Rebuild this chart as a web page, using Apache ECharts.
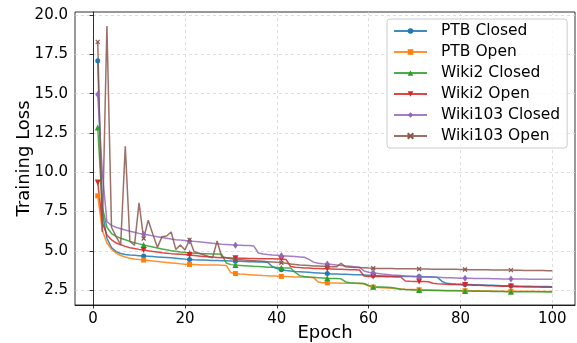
<!DOCTYPE html>
<html><head><meta charset="utf-8">
<script src="https://cdn.jsdelivr.net/npm/echarts@6/dist/echarts.min.js"></script>
<style>html,body{margin:0;padding:0;background:#fff}#c{width:577px;height:343px}</style>
</head><body><div id="c"></div>
<script>
const epochs = [1,2,3,4,5,6,7,8,9,10,11,12,13,14,15,16,17,18,19,20,21,22,23,24,25,26,27,28,29,30,31,32,33,34,35,36,37,38,39,40,41,42,43,44,45,46,47,48,49,50,51,52,53,54,55,56,57,58,59,60,61,62,63,64,65,66,67,68,69,70,71,72,73,74,75,76,77,78,79,80,81,82,83,84,85,86,87,88,89,90,91,92,93,94,95,96,97,98,99,100];

const ptbClosed = [17.1,7.5,5.8,5.2,4.95,4.83,4.77,4.73,4.71,4.69,
4.67,4.65,4.63,4.61,4.59,4.57,4.55,4.53,4.5,4.47,
4.45,4.43,4.42,4.41,4.4,4.39,4.38,4.37,4.36,4.35,
4.34,4.33,4.32,4.31,4.3,4.29,4.28,4.27,4.0,3.87,
3.8,3.75,3.72,3.69,3.67,3.65,3.63,3.61,3.59,3.57,
3.55,3.53,3.52,3.51,3.5,3.49,3.48,3.47,3.46,3.45,
3.42,3.41,3.4,3.39,3.39,3.38,3.38,3.37,3.37,3.36,
3.36,3.35,3.35,3.34,3.3,3.05,2.93,2.9,2.88,2.87,
2.86,2.85,2.84,2.83,2.82,2.81,2.8,2.79,2.78,2.78,
2.77,2.76,2.75,2.75,2.74,2.73,2.73,2.72,2.72,2.71];

const ptbOpen = [8.5,6.3,5.5,5.1,4.85,4.7,4.6,4.53,4.48,4.44,
4.41,4.38,4.35,4.32,4.29,4.26,4.23,4.2,4.17,4.15,
4.13,4.12,4.11,4.1,4.1,4.09,4.09,4.08,4.07,3.6,
3.55,3.52,3.5,3.48,3.46,3.44,3.42,3.41,3.4,3.39,
3.37,3.36,3.35,3.34,3.33,3.32,3.31,3.29,3.02,2.97,
2.96,2.95,2.95,2.94,2.94,2.93,2.93,2.92,2.9,2.76,
2.69,2.67,2.65,2.63,2.61,2.59,2.57,2.55,2.54,2.53,
2.52,2.51,2.5,2.5,2.49,2.48,2.48,2.47,2.47,2.46,
2.46,2.45,2.45,2.45,2.44,2.44,2.44,2.43,2.43,2.43,
2.43,2.42,2.42,2.42,2.42,2.42,2.41,2.41,2.41,2.41];

const wiki2Closed = [12.85,7.8,6.5,6.1,5.92,5.8,5.7,5.6,5.52,5.44,
5.37,5.3,5.24,5.18,5.12,5.06,5.01,4.97,4.93,4.9,
4.86,4.84,4.83,4.82,4.81,4.8,4.79,4.78,4.22,4.12,
4.09,4.07,4.05,4.03,4.01,4.0,3.98,3.96,3.95,3.94,
3.92,3.91,3.9,3.62,3.42,3.36,3.33,3.31,3.29,3.27,
3.25,3.24,3.23,3.22,3.02,2.97,2.95,2.94,2.92,2.8,
2.71,2.7,2.69,2.68,2.67,2.62,2.55,2.53,2.52,2.51,
2.5,2.49,2.49,2.48,2.47,2.47,2.46,2.46,2.45,2.45,
2.44,2.44,2.43,2.43,2.42,2.42,2.41,2.41,2.41,2.4,
2.4,2.4,2.4,2.39,2.39,2.39,2.39,2.39,2.38,2.38];

const wiki2Open = [9.35,6.8,6.0,5.7,5.5,5.38,5.28,5.2,5.14,5.09,
5.05,5.0,4.96,4.92,4.88,4.85,4.82,4.8,4.78,4.76,
4.73,4.7,4.67,4.64,4.62,4.6,4.58,4.56,4.55,4.54,
4.53,4.52,4.52,4.51,4.51,4.5,4.5,4.49,4.49,4.48,
4.48,4.45,4.0,3.96,3.93,3.91,3.9,3.88,3.87,3.86,
3.85,3.84,3.83,3.82,3.81,3.8,3.79,3.78,3.4,3.37,
3.37,3.36,3.36,3.35,3.35,3.34,3.33,3.08,3.06,3.05,
3.05,3.04,3.03,2.93,2.9,2.89,2.87,2.86,2.85,2.84,
2.83,2.82,2.81,2.8,2.79,2.78,2.77,2.76,2.75,2.74,
2.72,2.71,2.71,2.7,2.7,2.69,2.69,2.68,2.68,2.68];

const wiki103Closed = [14.95,10.0,6.85,6.62,6.5,6.4,6.32,6.25,6.18,6.11,
6.05,6.0,5.95,5.9,5.85,5.8,5.75,5.71,5.68,5.66,
5.63,5.6,5.57,5.54,5.51,5.48,5.45,5.42,5.4,5.38,
5.36,5.35,5.34,5.33,5.3,4.86,4.8,4.76,4.73,4.71,
4.69,4.67,4.65,4.63,4.61,4.59,4.45,4.28,4.21,4.18,
4.16,4.13,4.1,4.07,4.04,4.01,3.98,3.95,3.72,3.63,
3.6,3.56,3.52,3.49,3.46,3.44,3.42,3.4,3.38,3.36,
3.35,3.34,3.33,3.32,3.31,3.3,3.29,3.28,3.27,3.26,
3.25,3.25,3.24,3.24,3.23,3.23,3.22,3.22,3.21,3.21,
3.2,3.2,3.2,3.2,3.19,3.19,3.19,3.19,3.19,3.19];

const wiki103Open = [18.3,6.2,19.3,6.5,5.9,5.4,11.65,5.6,5.35,8.05,
5.78,6.95,6.05,5.22,5.9,5.94,6.2,5.09,5.37,5.05,
5.7,4.94,4.85,4.75,4.65,4.55,5.62,4.62,4.56,4.5,
4.45,4.43,4.41,4.39,4.37,4.35,4.33,4.31,4.29,4.27,
4.24,4.2,4.16,4.13,4.1,4.08,4.06,4.04,4.03,4.02,
4.0,3.99,3.98,4.2,3.98,3.96,3.94,3.93,3.92,3.9,
3.89,3.88,3.88,3.87,3.87,3.86,3.86,3.85,3.85,3.85,
3.84,3.84,3.84,3.83,3.83,3.83,3.82,3.82,3.82,3.81,
3.81,3.8,3.8,3.8,3.79,3.79,3.78,3.78,3.78,3.77,
3.77,3.76,3.76,3.75,3.75,3.75,3.74,3.74,3.73,3.73];

const xTicks = [0,20,40,60,80,100];
const yTicks = [2.5,5,7.5,10,12.5,15,17.5,20];

const seriesNames = ['PTB Closed','PTB Open','Wiki2 Closed','Wiki2 Open','Wiki103 Closed','Wiki103 Open'];
const seriesValues = [ptbClosed, ptbOpen, wiki2Closed, wiki2Open, wiki103Closed, wiki103Open];
const colors = ['#1f77b4','#ff7f0e','#2ca02c','#d62728','#9467bd','#8c564b'];
const symbols = ['circle','rect','triangle','triangle','diamond','path://M0,0L10,10M10,0L0,10'];
const symbolSizes = [5,5,6,6,[5,7],4];
const symbolRotates = [0,0,0,180,0,0];

const FONT = 'DejaVu Sans';
const chart = echarts.init(document.getElementById('c'), null, {renderer:'canvas'});

const series = seriesNames.map((name, k) => ({
  name: name,
  type: 'line',
  showSymbol: true,
  showAllSymbol: true,
  symbol: symbols[k],
  symbolSize: symbolSizes[k],
  symbolRotate: symbolRotates[k],
  color: colors[k],
  lineStyle: {width: 1.5, color: colors[k], opacity: 0.85},
  itemStyle: {color: colors[k], borderColor: colors[k], borderWidth: k === 5 ? 1.2 : 0},
  emphasis: {disabled: true},
  animation: false,
  data: epochs.map((e, i) => ({
    value: [e, seriesValues[k][i]],
    symbol: i % 10 === 0 ? symbols[k] : 'none'
  }))
}));

const axisCommon = {
  type: 'value',
  axisLine: {show: true, lineStyle: {color: '#000', width: 0.8}},
  axisTick: {show: true, length: 3.5, lineStyle: {color: '#000', width: 0.8}},
  splitLine: {show: true, lineStyle: {color: '#d6d6d6', width: 0.8, type: [3, 3]}},
  nameTextStyle: {fontFamily: FONT, fontSize: 18, color: '#000'},
  nameLocation: 'middle',
  nameMoveOverlap: false
};

chart.setOption({
  backgroundColor: '#fff',
  animation: false,
  grid: {left: 75, right: 2, top: 12, bottom: 38, show: true, borderColor: '#000', borderWidth: 0.8,
    containLabel: false, outerBoundsMode: 'none'},
  xAxis: Object.assign({}, axisCommon, {
    min: -3.95, max: 104.95,
    name: 'Epoch', nameGap: 19,
    axisTick: Object.assign({}, axisCommon.axisTick, {customValues: xTicks}),
    axisLabel: {customValues: xTicks, fontFamily: FONT, fontSize: 15, color: '#000', margin: 7},
  }),
  yAxis: Object.assign({}, axisCommon, {
    min: 1.55, max: 20.2,
    name: 'Training Loss', nameGap: 42,
    axisTick: Object.assign({}, axisCommon.axisTick, {customValues: yTicks}),
    axisLabel: {customValues: yTicks, fontFamily: FONT, fontSize: 15, color: '#000', margin: 7,
      formatter: v => Number(v).toFixed(1)},
  }),
  legend: {
    orient: 'vertical',
    left: 387, top: 19,
    padding: [4, 7, 4, 6],
    itemWidth: 33, itemHeight: 7, itemGap: 5,
    backgroundColor: 'rgba(255,255,255,0.8)',
    borderColor: '#cccccc', borderWidth: 1, borderRadius: 3,
    textStyle: {fontFamily: FONT, fontSize: 15.5, color: '#000', lineHeight: 16, padding: [0,0,0,9]},
    data: seriesNames
  },
  series: series
});
</script></body></html>
